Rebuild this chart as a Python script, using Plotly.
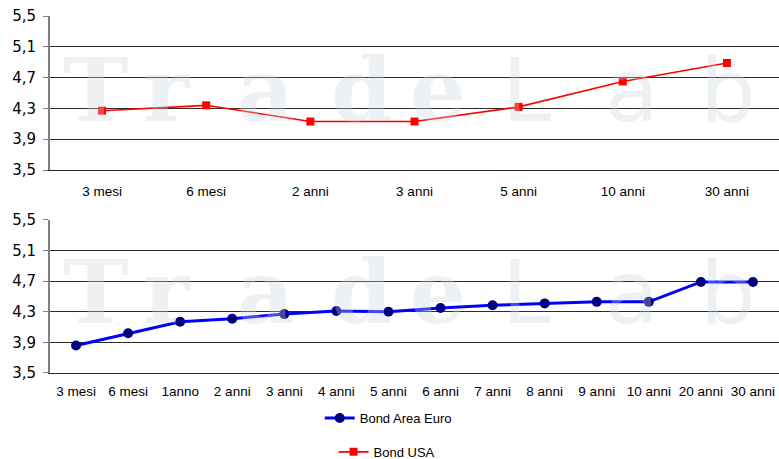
import plotly.graph_objects as go

# ---- data ----
usa_cats = ["3 mesi", "6 mesi", "2 anni", "3 anni", "5 anni", "10 anni", "30 anni"]
usa_vals = [4.27, 4.34, 4.13, 4.13, 4.32, 4.65, 4.89]

euro_cats = ["3 mesi", "6 mesi", "1anno", "2 anni", "3 anni", "4 anni", "5 anni",
             "6 anni", "7 anni", "8 anni", "9 anni", "10 anni", "20 anni", "30 anni"]
euro_vals = [3.86, 4.02, 4.17, 4.21, 4.27, 4.31, 4.30, 4.35, 4.385, 4.41, 4.43, 4.43, 4.69, 4.69]

y_ticks = [3.5, 3.9, 4.3, 4.7, 5.1, 5.5]
y_tick_text = ["3,5", "3,9", "4,3", "4,7", "5,1", "5,5"]

watermark_letters = ["T", "r", "a", "d", "e", "L", "a", "b"]

# ---- layout constants ----
wm_x = [0.062, 0.160, 0.295, 0.428, 0.532, 0.653, 0.798, 0.930]
wm_serif = [True, True, True, True, True, False, False, False]

fig = go.Figure()

fig.add_trace(go.Scatter(
    x=euro_cats, y=euro_vals, name="Bond Area Euro", mode="lines+markers",
    line=dict(color="#0000FF", width=3),
    marker=dict(symbol="circle", size=10, color="#000080"),
    xaxis="x2", yaxis="y2", legend="legend", cliponaxis=False,
))
fig.add_trace(go.Scatter(
    x=usa_cats, y=usa_vals, name="Bond USA", mode="lines+markers",
    line=dict(color="#FF0000", width=1.6),
    marker=dict(symbol="square", size=8, color="#FF0000"),
    xaxis="x", yaxis="y", legend="legend2", cliponaxis=False,
))

common_y = dict(
    range=[3.5, 5.5], tickvals=y_ticks, ticktext=y_tick_text,
    showgrid=True, gridcolor="#2a2a2a", gridwidth=1,
    showline=True, linecolor="#808080", linewidth=2,
    ticks="outside", ticklen=5, tickcolor="#808080", tickwidth=1,
    tickfont=dict(family="DejaVu Sans", size=15, color="#000000"),
    ticklabelstandoff=4, zeroline=False, fixedrange=True,
)
common_x = dict(
    type="category", showgrid=False, showline=True, linecolor="#2a2a2a", linewidth=1,
    ticks="", tickfont=dict(family="Liberation Sans", size=13.5, color="#000000"),
    zeroline=False, fixedrange=True,
)

annotations = []
for ref, yy in (("", 0.519), ("2", 0.529)):
    for letter, xx, serif in zip(watermark_letters, wm_x, wm_serif):
        annotations.append(dict(
            text=letter, x=xx, y=yy, xref=f"x{ref} domain", yref=f"y{ref} domain",
            xanchor="center", yanchor="middle", showarrow=False,
            font=dict(family="DejaVu Serif" if serif else "DejaVu Sans",
                      size=88, color="rgba(200,212,218,0.33)",
                      weight="bold" if serif else "normal"),
        ))

fig.update_layout(
    width=779, height=459,
    margin=dict(l=50, r=0, t=16, b=86, autoexpand=False),
    paper_bgcolor="#FFFFFF", plot_bgcolor="rgba(0,0,0,0)",
    xaxis=dict(common_x, domain=[0, 1], anchor="y", range=[-0.5, 6.5], ticklabelstandoff=9),
    yaxis=dict(common_y, domain=[0.5686, 1], anchor="x"),
    xaxis2=dict(common_x, domain=[0, 1], anchor="y2", range=[-0.5, 13.5], ticklabelstandoff=6),
    yaxis2=dict(common_y, domain=[0, 0.4286], anchor="x2"),
    legend=dict(x=0.370, y=-0.126, xanchor="left", yanchor="middle",
                font=dict(family="Liberation Sans", size=13, color="#000000"),
                bgcolor="rgba(0,0,0,0)"),
    legend2=dict(x=0.389, y=-0.221, xanchor="left", yanchor="middle",
                 font=dict(family="Liberation Sans", size=13, color="#000000"),
                 bgcolor="rgba(0,0,0,0)"),
    annotations=annotations,
    showlegend=True,
)

fig.write_html("out.html", config={"displayModeBar": False},
               post_script="document.body.style.margin='0';")
